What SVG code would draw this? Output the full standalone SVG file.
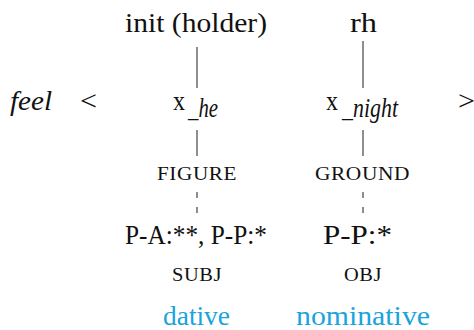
<svg xmlns="http://www.w3.org/2000/svg" width="474" height="330" viewBox="0 0 474 330">
<style>
text{font-family:"Liberation Serif","Times New Roman",serif;fill:#111;font-size:28px;}
.it{font-style:italic;}
.sc{font-size:18px;letter-spacing:0.5px;}
.blue{fill:#1aa3dc;}
.ln{stroke:#444;stroke-width:1.2;fill:none;}
.dash{stroke-dasharray:6 9;}
</style>
<rect width="474" height="330" fill="#fff"/>
<g id="feel"><text x="10" y="110" class="it" textLength="42" lengthAdjust="spacingAndGlyphs">feel</text></g>
<g id="lt"><text x="80" y="110" textLength="17" lengthAdjust="spacingAndGlyphs">&lt;</text></g>
<g id="gt"><text x="458" y="110" textLength="17" lengthAdjust="spacingAndGlyphs">&gt;</text></g>
<g id="init"><text x="125" y="32" textLength="142" lengthAdjust="spacingAndGlyphs">init (holder)</text></g>
<g id="rh"><text x="350" y="32" textLength="27" lengthAdjust="spacingAndGlyphs">rh</text></g>
<g id="xhe"><text x="173" y="110" textLength="12" lengthAdjust="spacingAndGlyphs">x</text><text x="188" y="117" class="it" textLength="30" lengthAdjust="spacingAndGlyphs">_he</text></g>
<g id="xnight"><text x="326" y="110" textLength="12" lengthAdjust="spacingAndGlyphs">x</text><text x="342" y="117" class="it" textLength="56" lengthAdjust="spacingAndGlyphs">_night</text></g>
<g id="figure"><text x="157" y="180" class="sc" textLength="80" lengthAdjust="spacingAndGlyphs">FIGURE</text></g>
<g id="ground"><text x="315" y="180" class="sc" textLength="95" lengthAdjust="spacingAndGlyphs">GROUND</text></g>
<g id="pa"><text x="125" y="244" textLength="142" lengthAdjust="spacingAndGlyphs">P-A:**, P-P:*</text></g>
<g id="pp"><text x="323" y="244" textLength="69" lengthAdjust="spacingAndGlyphs">P-P:*</text></g>
<g id="subj"><text x="172" y="281" class="sc" textLength="50" lengthAdjust="spacingAndGlyphs">SUBJ</text></g>
<g id="obj"><text x="344" y="281" class="sc" textLength="38" lengthAdjust="spacingAndGlyphs">OBJ</text></g>
<g id="dative"><text x="163" y="325" class="blue" textLength="67" lengthAdjust="spacingAndGlyphs">dative</text></g>
<g id="nominative"><text x="296" y="325" class="blue" textLength="134" lengthAdjust="spacingAndGlyphs">nominative</text></g>
<g id="connectors">
<line class="ln" x1="197" y1="47" x2="197" y2="88"/>
<line class="ln" x1="363" y1="41" x2="363" y2="88"/>
<line class="ln" x1="197" y1="130" x2="197" y2="156"/>
<line class="ln" x1="363" y1="130" x2="363" y2="156"/>
<line class="ln dash" x1="197" y1="192" x2="197" y2="213"/>
<line class="ln dash" x1="363" y1="192" x2="363" y2="213"/>
</g>
</svg>
